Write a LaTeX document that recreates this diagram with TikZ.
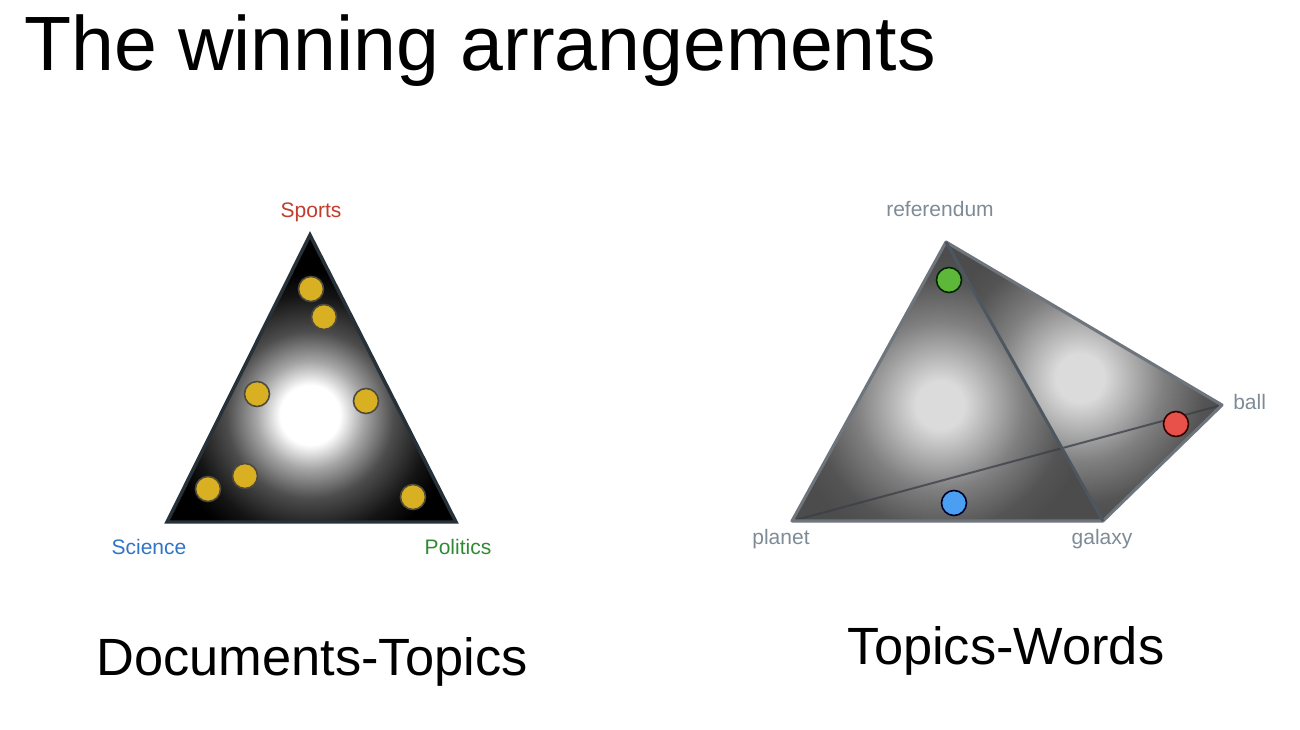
\documentclass[tikz,border=0pt]{standalone}
\usepackage{fontspec}
\setmainfont{Liberation Sans}

% glow inside the document/topic simplex: white core fading to black
% (on a shaded circle the stop at 25bp falls on the rim)
\pgfdeclareradialshading{darkglow}{\pgfpoint{0bp}{0bp}}{%
  color(0bp)=(white); color(5bp)=(white); color(9bp)=(black!35);
  color(14bp)=(black!70); color(20bp)=(black!92); color(24bp)=(black);
  color(50bp)=(black)}
% softer grey glow for the faces of the tetrahedron
\pgfdeclareradialshading{greyglow}{\pgfpoint{0bp}{0bp}}{%
  color(0bp)=(black!14); color(4bp)=(black!14); color(14bp)=(black!50);
  color(21bp)=(black!67); color(25bp)=(black!70); color(50bp)=(black!70)}

\definecolor{sportsred}{HTML}{C23B2C}
\definecolor{sciblue}{HTML}{2F74C6}
\definecolor{polgreen}{HTML}{2F8A33}
\definecolor{wordgrey}{HTML}{7E8B97}
\definecolor{dotyellow}{HTML}{D9B021}
\definecolor{dotgreen}{HTML}{5DB83A}
\definecolor{dotred}{HTML}{E8504A}
\definecolor{dotblue}{HTML}{4A9FF2}
\definecolor{simplexline}{HTML}{27313A}
\definecolor{tetraline}{HTML}{6E757C}
\definecolor{tetrafront}{HTML}{4C5761}
\definecolor{tetraback}{HTML}{3A3F45}

\begin{document}
\begin{tikzpicture}[x=0.75pt,y=-0.75pt,
  title/.style={font=\fontsize{57.75pt}{66pt}\selectfont, inner sep=0pt},
  caption/.style={font=\fontsize{39.3pt}{44pt}\selectfont, inner sep=0pt},
  lab/.style={font=\fontsize{15.75pt}{18pt}\selectfont, inner sep=0pt},
  wordlab/.style={lab, text=wordgrey},
  simplexedge/.style={draw=simplexline, line width=2.6pt, line join=miter},
  outline/.style={draw=tetraline, line width=2.3pt, line join=round},
  frontedge/.style={draw=tetrafront, line width=2.2pt},
  backedge/.style={draw=tetraback, draw opacity=0.75, line width=1.5pt},
  dotbase/.style={circle, minimum size=18.75pt, inner sep=0pt, line width=1.2pt},
  ydot/.style={dotbase, fill=dotyellow, draw=black!80!yellow},
  gdot/.style={dotbase, fill=dotgreen, draw=black!85!green},
  rdot/.style={dotbase, fill=dotred, draw=black!80!red},
  bdot/.style={dotbase, fill=dotblue, draw=black!85!blue}]

\useasboundingbox (0,0) rectangle (1300,730);

% heading
\node[title, anchor=base west] (heading) at (24,71) {The winning arrangements};

% ---------------- Documents-Topics simplex ----------------
\coordinate (S) at (310,235);
\coordinate (Sci) at (167,522);
\coordinate (Pol) at (456,522);
\begin{scope}
  \clip (S) -- (Sci) -- (Pol) -- cycle;
  \fill[black] (S) -- (Sci) -- (Pol) -- cycle;
  \shade[shading=darkglow] (310,415) circle[radius=112pt];
\end{scope}
\draw[simplexedge] (S) -- (Sci) -- (Pol) -- cycle;

\node[ydot] (d1) at (311,289) {};
\node[ydot] (d2) at (324,317) {};
\node[ydot] (d3) at (257,394) {};
\node[ydot] (d4) at (366,401) {};
\node[ydot] (d5) at (245,476) {};
\node[ydot] (d6) at (208,489) {};
\node[ydot] (d7) at (413,497) {};

\node[lab, text=sportsred, anchor=base] (sports) at (311,218) {Sports};
\node[lab, text=sciblue, anchor=base] (science) at (149,555) {Science};
\node[lab, text=polgreen, anchor=base] (politics) at (458,555) {Politics};

\node[caption, anchor=base] (doctop) at (312,675) {Documents-Topics};

% ---------------- Topics-Words tetrahedron ----------------
\coordinate (R) at (946,242);
\coordinate (P) at (792,521);
\coordinate (G) at (1103,521);
\coordinate (B) at (1222,405);
\begin{scope}
  \clip (R) -- (P) -- (G) -- cycle;
  \fill[black!70] (R) -- (P) -- (G) -- cycle;
  \shade[shading=greyglow] (940,405) circle[radius=112pt];
\end{scope}
\begin{scope}
  \clip (R) -- (G) -- (B) -- cycle;
  \fill[black!70] (R) -- (G) -- (B) -- cycle;
  \shade[shading=greyglow] (1080,378) circle[radius=112pt];
\end{scope}
\draw[backedge] (P) -- (B);
\draw[outline] (R) -- (P) -- (G) -- (B) -- cycle;
\draw[frontedge] (R) -- (G);

\node[gdot] (wg) at (949,280) {};
\node[rdot] (wr) at (1176,424) {};
\node[bdot] (wb) at (954,503) {};

\node[wordlab, anchor=base] (referendum) at (940,217) {referendum};
\node[wordlab, anchor=base west] (ball) at (1233,410) {ball};
\node[wordlab, anchor=base] (planet) at (781,545) {planet};
\node[wordlab, anchor=base] (galaxy) at (1102,545) {galaxy};

\node[caption, anchor=base] (topword) at (1006,664) {Topics-Words};
\end{tikzpicture}
\end{document}
